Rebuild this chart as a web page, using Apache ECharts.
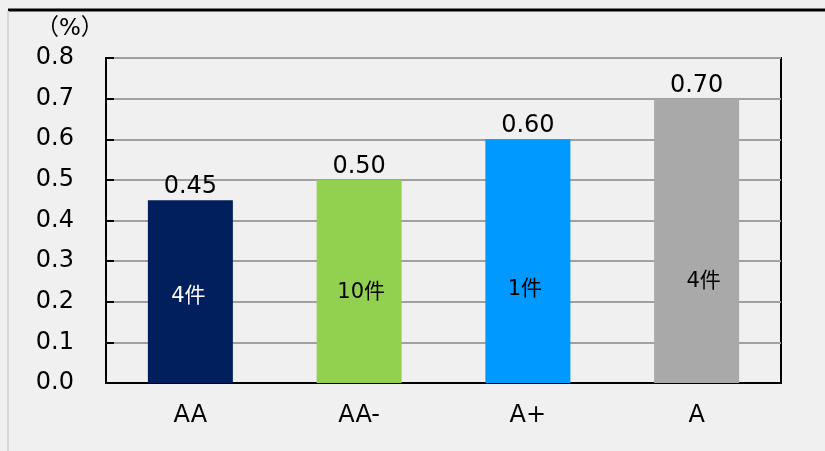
<!DOCTYPE html>
<html>
<head>
<meta charset="utf-8">
<script src="https://cdn.jsdelivr.net/npm/echarts@6/dist/echarts.min.js"></script>
<style>
html,body{margin:0;padding:0;background:#f0f0f0;}
#chart{width:825px;height:451px;}
</style>
</head>
<body>
<div id="chart"></div>
<script>
const categories = ['AA', 'AA-', 'A+', 'A'];
const rates = [0.45, 0.50, 0.60, 0.70];
const counts = ['4件', '10件', '1件', '4件'];
const yTicks = [0, 0.1, 0.2, 0.3, 0.4, 0.5, 0.6, 0.7, 0.8];
const unitLabel = '（%）';

const barColors = ['#001f5c', '#92d050', '#0099ff', '#a9a9a9'];
const countColors = ['#ffffff', '#000000', '#000000', '#000000'];
const countOffsets = [[-2, 5], [2, 11], [-3, 28], [7, 41]];
const FONT = '"DejaVu Sans", "Noto Sans CJK JP", sans-serif';

const chart = echarts.init(document.getElementById('chart'));
chart.setOption({
  backgroundColor: '#f0f0f0',
  animation: false,
  textStyle: { fontFamily: FONT },
  title: {
    text: unitLabel, left: 36, top: 18, padding: 0,
    textStyle: { fontSize: 23, fontWeight: 'normal', color: '#000', fontFamily: FONT }
  },
  grid: { left: 106, right: 44, top: 58, bottom: 68, show: true, borderColor: '#000', borderWidth: 2 },
  graphic: [
    { type: 'line', shape: { x1: 8, y1: 10, x2: 825, y2: 10 }, style: { stroke: '#000', lineWidth: 3 } },
    { type: 'line', shape: { x1: 8, y1: 11, x2: 8, y2: 451 }, style: { stroke: '#d8d8d2', lineWidth: 2 } }
  ],
  xAxis: {
    type: 'category',
    data: categories,
    axisLine: { lineStyle: { color: '#000', width: 2 } },
    axisTick: { inside: true, length: 7, lineStyle: { color: '#000', width: 2 } },
    axisLabel: { color: '#000', fontSize: 24, margin: 21, fontFamily: FONT }
  },
  yAxis: {
    type: 'value',
    min: yTicks[0],
    max: yTicks[yTicks.length - 1],
    interval: 0.1,
    axisLine: { show: true, lineStyle: { color: '#000', width: 2 } },
    axisTick: { show: true, inside: true, length: 8, lineStyle: { color: '#000', width: 2 } },
    axisLabel: { color: '#000', fontSize: 24, margin: 32, fontFamily: FONT, formatter: v => v.toFixed(1) },
    splitLine: { lineStyle: { color: '#a0a0a0', width: 2 } }
  },
  series: [
    {
      type: 'bar',
      barWidth: 85,
      data: rates.map((v, i) => ({ value: v, itemStyle: { color: barColors[i] } })),
      label: {
        show: true, position: 'top', distance: 1, color: '#000', fontSize: 24, fontFamily: FONT,
        formatter: p => p.value.toFixed(2)
      }
    },
    {
      type: 'bar',
      barWidth: 85,
      barGap: '-100%',
      silent: true,
      data: rates.map((v, i) => ({
        value: v,
        itemStyle: { color: 'rgba(0,0,0,0)' },
        label: { offset: countOffsets[i], color: countColors[i] }
      })),
      label: {
        show: true, position: 'inside', fontSize: 21, fontFamily: FONT,
        formatter: p => counts[p.dataIndex]
      }
    }
  ]
});
</script>
</body>
</html>
